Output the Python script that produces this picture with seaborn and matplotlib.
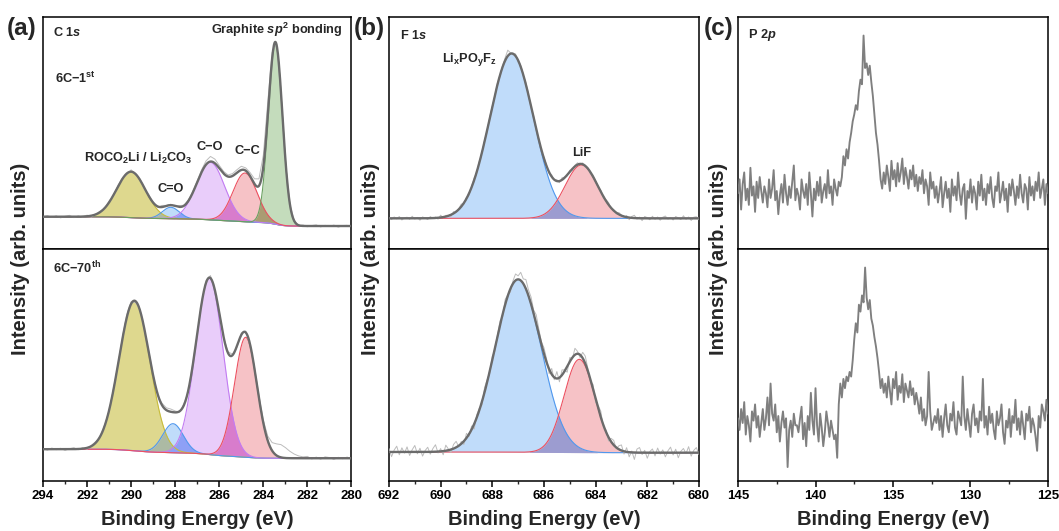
import numpy as np
import matplotlib
matplotlib.use("Agg")
import matplotlib.pyplot as plt
from matplotlib.ticker import MultipleLocator
import seaborn as sns

# ---------------- C 1s ----------------
c1s_span = (294.0, 280.0)
c1s_1st_center = [290.0, 288.2, 286.4, 284.83, 283.45]
c1s_1st_height = [0.198, 0.049, 0.248, 0.21, 0.777]
c1s_1st_fwhm = [1.55, 0.9, 1.5, 1.29, 0.75]
c1s_1st_bg = (0.139, 0.099)          # background at high / low binding-energy end
# raw minus fit, x0.01, every 0.2 eV from 294 to 280
c1s_1st_resid = [
    0, 0.5, -0.3, 0.4, -0.5, 0.2, 0.6, -0.4, 0.3, -0.2, 0.5, -0.6, 0.2, 0.4, -0.3, 0.5,
    -0.4, 0.6, 0.3, -0.5, 0.8, -0.2, 0.4, -0.6, 0.5, 0.3, -0.4, 0.7, 0.2,
    0.4, -0.3, 0.6, 0.2, 0.5, 0.4,
    0.6, 1.0, 1.6, 2.2, 1.8, 1.2,
    0.9, 0.7, 1.0, 1.3, 1.6, 1.2, 1.5, 2.2, 3.0,
    5.0, 6.0, 2.5, 0.5, -1.5, -1.0, -0.3,
    0.3, -0.2, 0.4, -0.3, 0.2, 0.5, -0.4, 0.3, -0.2, 0.4, -0.5, 0.2, 0.3, -0.2]

c1s_70th_center = [289.85, 288.1, 286.45, 284.8]
c1s_70th_height = [0.647, 0.125, 0.76, 0.517]
c1s_70th_fwhm = [1.65, 1.1, 1.45, 1.2]
c1s_70th_bg = (0.137, 0.098)
c1s_70th_resid = [
    0.3, -0.4, 0.5, -0.2, 0.4, -0.5, 0.2, 0.6, -0.3, 0.4, -0.6, 0.3, 0.5, -0.2, 0.4, -0.4,
    0.6, -0.5, 0.8, 1.2, 0.9, -0.6, 0.5, -0.8, 0.6, 0.4, -0.5, 0.8, 1.0,
    1.2, 0.6, -0.4, 0.5, -0.6, 0.8, -0.5, 0.6, 0.9, 1.1, -0.4, 0.5,
    -0.3, 0.6, 0.4, -0.5, 0.8, 0.6, -0.4, 0.7, 1.0,
    1.2, 2.0, 3.5, 5.0, 5.5, 4.5, 3.0,
    1.8, 1.0, 0.6, 0.8, -0.3, 0.5, -0.4, 0.6, 0.3, -0.5, 0.4, -0.2, 0.5, -0.3]

c1s_fill_1st = ["#ded88e", "#c0dcfa", "#e9cdfa", "#f6c2c6", "#c4dcbc"]
c1s_edge_1st = ["#c8bc3c", "#5098ee", "#c27cf2", "#ec5060", "#6aa060"]
c1s_overlap_1st = {(0, 1): "#acbaa4", (1, 2): "#8ea0f6", (2, 3): "#d87ccc", (3, 4): "#aa9c72"}
c1s_fill_70th = c1s_fill_1st[:4]
c1s_edge_70th = c1s_edge_1st[:4]
c1s_overlap_70th = {(0, 2): "#c8b4b8", (0, 1): "#acbaa4", (1, 2): "#8ea0f6", (2, 3): "#d87ccc"}

# ---------------- F 1s ----------------
f1s_span = (692.0, 680.0)
f1s_1st_center = [687.25, 684.55]
f1s_1st_height = [0.711, 0.23]
f1s_1st_fwhm = [2.0, 1.5]
f1s_1st_bg = (0.132, 0.132)
# raw minus fit, x0.01, every 0.1 eV from 692 to 680
f1s_1st_resid = [
    0.3, -0.5, 0.6, -0.2, 0.8, -0.7, 0.2, 0.5, -0.4, 0.9, -0.3, 0.4, -0.8, 0.6, 0.1,
    -0.5, 0.7, -0.2, 0.4, -0.6, 1.0, -0.3, 0.5, 0.2, -0.7, 0.8, -0.4, 0.3, 1.1, -0.5,
    0.6, -0.8, 0.4, 0.9, -0.5, 0.7, -0.3, 0.5, -0.9, 0.6, 0.3, -0.4, 0.8, -0.6, 0.5,
    1.2, 2.5, 0.4, -0.5, 0.9, -0.7, 0.6, -0.4, 0.8, 0.3, -0.6, 0.7, -0.3, 0.5, -0.8, 0.6,
    0.4, -0.5, 0.8, -0.3, 0.6, -0.7, 0.9, 0.2, -0.4, 0.7, -0.6, 0.5, 0.8, -0.3, 0.6,
    -0.5, 0.4, -0.8, 0.7, 0.3, -0.4, 0.6, -0.7, 0.5, 0.9, -0.3, 0.4, -0.6, 0.8, 0.2,
    -0.5, 0.7, -0.9, 0.6, 1.2, -0.4, 0.5, -1.0, 0.8, 0.3, -0.6, 0.9, -0.4, 0.6, -0.8,
    0.5, 1.0, -0.3, 0.4, -0.7, 0.8, 0.2, -0.5, 1.1, -0.4, 0.6, -0.9, 0.5, 0.7, -0.6]

f1s_70th_center = [687.0, 684.63]
f1s_70th_height = [0.745, 0.402]
f1s_70th_fwhm = [2.1, 1.4]
f1s_70th_bg = (0.125, 0.122)
f1s_70th_resid = [
    1.5, -2.0, 0.8, 2.5, -1.2, 1.8, -0.5, 2.2, -1.5, 1.0, 2.8, -0.8, 1.6, -1.8, 0.6,
    2.0, -1.0, 1.4, 3.0, -0.6, 1.2, -1.6, 2.4, 0.5, -1.2, 1.8, 2.6, -0.4, 1.0, -1.4,
    2.0, -1.0, 1.5, -2.2, 1.2, 0.8, -1.5, 2.0, 1.0, -0.8, 1.6, -1.2, 0.6, 1.8, -1.0,
    2.2, 0.5, -1.4, 1.2, 2.8, 1.5, 3.5, 2.0, 4.0, 2.5, 3.0, 1.5, 3.8, 2.2, 1.0, 2.6,
    1.5, -2.0, 2.5, -1.0, 3.0, -1.8, 2.2, 0.5, -2.5, 1.8, -0.5, 2.8, 1.0, -1.2, 2.5,
    3.2, 1.0, -0.8, 2.0, -1.5, 1.2, 2.6, -1.0, 0.8, -1.6, 1.4, 2.0, -0.6, 1.5, 2.4,
    -1.2, 1.8, -2.0, 0.6, -3.0, 1.5, 2.2, -0.8, 1.0, -2.4, 0.5, 1.6, -1.4, 2.0, -0.6,
    1.2, -1.8, 0.8, 2.4, -1.0, 1.5, -2.2, 0.6, 1.8, -0.4, 2.6, -1.5, 1.0, 2.2, -0.8]

f1s_fill = ["#c0dcfa", "#f6c2c6"]
f1s_edge = ["#5098ee", "#ec5060"]
f1s_overlap = {(0, 1): "#9c9cd0"}

# ---------------- P 2p ----------------
p2p_span = (145.0, 125.0)
# intensity x0.01, every 0.1 eV from 145 to 125
p2p_1st = [
    24, 30, 17, 28, 33, 21, 26, 19, 35, 23, 27, 16, 29, 22, 31, 25, 20, 27, 24, 18,
    30, 22, 26, 34, 21, 25, 15, 23, 28, 20, 32, 24, 19, 27, 22, 29, 36, 21, 26, 23,
    17, 30, 25, 22, 28, 19, 33, 24, 14, 26, 21, 29, 23, 31, 20, 25, 28, 22, 34, 24,
    27, 19, 30, 26, 23,
    29, 27, 31, 40, 36, 43, 39, 46, 50, 55, 58, 62, 60, 68, 73, 71, 92, 78, 80, 75,
    79, 72, 66, 58, 50, 45, 38, 30, 26, 33,
    28, 36, 31, 25, 38, 30, 34, 27, 37, 29, 33, 39, 28, 35, 31, 26, 34, 30, 36, 27, 32,
    25, 31, 28, 34, 24, 30, 27, 19, 33, 26, 29, 22,
    27, 20, 25, 31, 18, 24, 29, 22, 26, 16, 30, 23, 27, 21, 33, 24, 19, 26, 28, 13,
    25, 22, 30, 20, 27, 24, 17, 29, 23, 32, 21, 26, 19, 28, 24, 31, 22, 18, 27, 25,
    33, 20, 24, 29, 21, 26, 16, 28, 23, 30, 25, 19, 27, 22, 32, 24, 20, 28, 26, 17,
    31, 23, 27, 21, 29, 25, 33, 22, 26, 30, 19, 28, 24]
p2p_70th = [
    27, 22, 31, 25, 34, 20, 28, 24, 17, 30, 26, 33, 23, 28, 19, 25, 31, 22, 27, 36,
    24, 42, 29, 26, 33, 21, 28, 17, 25, 30, 23, 27, 6, 22, 26, 19, 29, 24, 24, 21,
    27, 32, 18, 25, 15, 28, 22, 38, 26, 20, 40, 24, 17, 29, 23, 15, 21, 30, 25, 19,
    26, 22, 18, 20, 10,
    33, 42, 36, 44, 40, 45, 43, 47, 45, 52, 61, 68, 64, 76, 73, 80, 77, 92, 79, 74,
    78, 70, 67, 62, 58, 53, 47, 40, 44, 38,
    42, 36, 45, 39, 33, 44, 40, 47, 35, 41, 38, 46, 34, 42, 39, 36, 43, 37, 40, 33, 38,
    34, 29, 36, 26, 31, 24, 28, 47, 30, 22, 25, 28,
    25, 31, 22, 28, 19, 27, 33, 24, 21, 29, 26, 34, 23, 20, 30, 27, 24, 45, 28, 22,
    31, 25, 19, 29, 33, 24, 27, 21, 30, 26, 44, 23, 28, 20, 32, 25, 29, 22, 18, 30,
    24, 27, 33, 21, 16, 26, 23, 31, 19, 28, 25, 35, 22, 27, 20, 30, 24, 18, 29, 26,
    32, 21, 27, 24, 19, 13, 28, 23, 33, 30, 26, 35, 29]

# ---------------- style ----------------
sns.set_theme(style="white")
plt.rcParams.update({
    "font.family": ["Liberation Sans", "DejaVu Sans"],
    "font.weight": "bold",
    "axes.labelweight": "bold",
    "mathtext.fontset": "custom",
    "mathtext.rm": "Liberation Sans:bold",
    "mathtext.it": "Liberation Sans:bold:italic",
    "mathtext.bf": "Liberation Sans:bold",
    "mathtext.default": "rm",
    "axes.edgecolor": "black",
    "axes.linewidth": 1.1,
})

ENV_COLOR = "#6b6b6b"
RAW_COLOR = "#bcbcbc"


def gauss(x, c, h, w):
    return h * np.exp(-4 * np.log(2) * (x - c) ** 2 / w ** 2)


def fit_model(x, centers, heights, fwhms, bg):
    comps = np.array([gauss(x, c, h, w) for c, h, w in zip(centers, heights, fwhms)])
    total = comps.sum(axis=0)
    cum = np.cumsum(total[::-1])[::-1]          # Shirley-type step background
    base = bg[1] + (bg[0] - bg[1]) * cum / cum[0]
    return comps, base, base + total


def line(ax, x, y, color, lw, z):
    sns.lineplot(x=x, y=y, color=color, linewidth=lw, ax=ax,
                 estimator=None, sort=False, zorder=z)


def draw_fit(ax, span, centers, heights, fwhms, bg, resid, raw_every,
             fills, edges, overlaps):
    x = np.linspace(span[0], span[1], (len(resid) - 1) * raw_every + 1)
    comps, base, env = fit_model(x, centers, heights, fwhms, bg)
    for comp, fc in zip(comps, fills):
        ax.fill_between(x, base, base + comp, color=fc, lw=0, zorder=1)
    for (i, j), oc in overlaps.items():
        low = np.minimum(comps[i], comps[j])
        ax.fill_between(x, base, base + low, where=low > 2e-3,
                        color=oc, lw=0, zorder=2)
    for comp, ec in zip(comps, edges):
        line(ax, x, base + comp, ec, 0.8, 3)
    raw = env[::raw_every] + np.asarray(resid) * 0.01
    line(ax, x[::raw_every], raw, RAW_COLOR, 0.7, 4)
    line(ax, x, env, ENV_COLOR, 1.7, 5)
    ax.set_xlim(*span)
    ax.set_ylim(0, 1)


def style_pair(top, bottom, major, minor):
    for ax in (top, bottom):
        ax.set_yticks([])
        ax.set_ylabel("")
        ax.set_xlabel("")
        for s in ax.spines.values():
            s.set_linewidth(1.1)
            s.set_color("black")
    top.tick_params(axis="x", bottom=False, labelbottom=False)
    bottom.xaxis.set_major_locator(MultipleLocator(major))
    bottom.xaxis.set_minor_locator(MultipleLocator(minor))
    bottom.tick_params(axis="x", which="major", bottom=True, direction="out",
                       length=4, width=1.1, pad=2.5, labelsize=9.5, colors="black")
    bottom.tick_params(axis="x", which="minor", bottom=True, direction="out",
                       length=2, width=1.0)
    for lab in bottom.get_xticklabels():
        lab.set_fontweight("bold")
    bottom.set_xlabel("Binding Energy (eV)", fontsize=14.5, fontweight="bold",
                      labelpad=6)


fig = plt.figure(figsize=(10.59, 5.31), dpi=100)
H = 0.4369
lefts = [0.0406, 0.3673, 0.6969]
widths = [0.2913, 0.2927, 0.2927]
axes = []
for l, w in zip(lefts, widths):
    top = fig.add_axes([l, 0.5311, w, H])
    bot = fig.add_axes([l, 0.0942, w, H])
    axes.append((top, bot))

# (a) C 1s
a_top, a_bot = axes[0]
draw_fit(a_top, c1s_span, c1s_1st_center, c1s_1st_height, c1s_1st_fwhm, c1s_1st_bg,
         c1s_1st_resid, 10, c1s_fill_1st, c1s_edge_1st, c1s_overlap_1st)
draw_fit(a_bot, c1s_span, c1s_70th_center, c1s_70th_height, c1s_70th_fwhm, c1s_70th_bg,
         c1s_70th_resid, 10, c1s_fill_70th, c1s_edge_70th, c1s_overlap_70th)
style_pair(a_top, a_bot, 2, 1)

# (b) F 1s
b_top, b_bot = axes[1]
draw_fit(b_top, f1s_span, f1s_1st_center, f1s_1st_height, f1s_1st_fwhm, f1s_1st_bg,
         f1s_1st_resid, 5, f1s_fill, f1s_edge, f1s_overlap)
draw_fit(b_bot, f1s_span, f1s_70th_center, f1s_70th_height, f1s_70th_fwhm, f1s_70th_bg,
         f1s_70th_resid, 5, f1s_fill, f1s_edge, f1s_overlap)
style_pair(b_top, b_bot, 2, 1)

# (c) P 2p
c_top, c_bot = axes[2]
x_p = np.linspace(p2p_span[0], p2p_span[1], len(p2p_1st))
line(c_top, x_p, np.asarray(p2p_1st) * 0.01, "#7f7f7f", 1.35, 3)
line(c_bot, x_p, np.asarray(p2p_70th) * 0.01, "#7f7f7f", 1.35, 3)
for ax in (c_top, c_bot):
    ax.set_xlim(*p2p_span)
    ax.set_ylim(0, 1)
style_pair(c_top, c_bot, 5, 2.5)

# annotations
fs = 9.2
a_top.text(0.032, 0.931, r"C 1$\it{s}$", transform=a_top.transAxes, fontsize=fs,
           fontweight="bold", va="center", ha="left")
a_top.text(0.039, 0.737, r"6C$-$1$^{\mathrm{st}}$", transform=a_top.transAxes,
           fontsize=fs, fontweight="bold", va="center", ha="left")
a_top.text(0.972, 0.944, r"Graphite $\it{sp}^{2}$ bonding", transform=a_top.transAxes,
           fontsize=fs, fontweight="bold", va="center", ha="right")
a_top.text(0.308, 0.392, r"ROCO$_2$Li / Li$_2$CO$_3$", transform=a_top.transAxes,
           fontsize=fs, fontweight="bold", va="center", ha="center")
a_top.text(0.415, 0.259, "C=O", transform=a_top.transAxes, fontsize=fs,
           fontweight="bold", va="center", ha="center")
a_top.text(0.541, 0.44, "C\u2212O", transform=a_top.transAxes, fontsize=fs,
           fontweight="bold", va="center", ha="center")
a_top.text(0.661, 0.422, "C\u2212C", transform=a_top.transAxes, fontsize=fs,
           fontweight="bold", va="center", ha="center")
a_bot.text(0.032, 0.918, r"6C$-$70$^{\mathrm{th}}$", transform=a_bot.transAxes,
           fontsize=fs, fontweight="bold", va="center", ha="left")

b_top.text(0.035, 0.922, r"F 1$\it{s}$", transform=b_top.transAxes, fontsize=fs,
           fontweight="bold", va="center", ha="left")
b_top.text(0.261, 0.815, r"Li$_{\mathrm{x}}$PO$_{\mathrm{y}}$F$_{\mathrm{z}}$",
           transform=b_top.transAxes, fontsize=fs, fontweight="bold",
           va="center", ha="center")
b_top.text(0.622, 0.414, "LiF", transform=b_top.transAxes, fontsize=fs,
           fontweight="bold", va="center", ha="center")

c_top.text(0.032, 0.922, r"P 2$\it{p}$", transform=c_top.transAxes, fontsize=fs,
           fontweight="bold", va="center", ha="left")

for lx, tag in zip([0.0066, 0.3342, 0.6647], ["(a)", "(b)", "(c)"]):
    fig.text(lx, 0.947, tag, fontsize=17.5, fontweight="bold", ha="left", va="center")
for yx in [0.0189, 0.3494, 0.6780]:
    fig.text(yx, 0.512, "Intensity (arb. units)", rotation=90, fontsize=14.5,
             fontweight="bold", ha="center", va="center")

fig.savefig("out.png", dpi=100)
